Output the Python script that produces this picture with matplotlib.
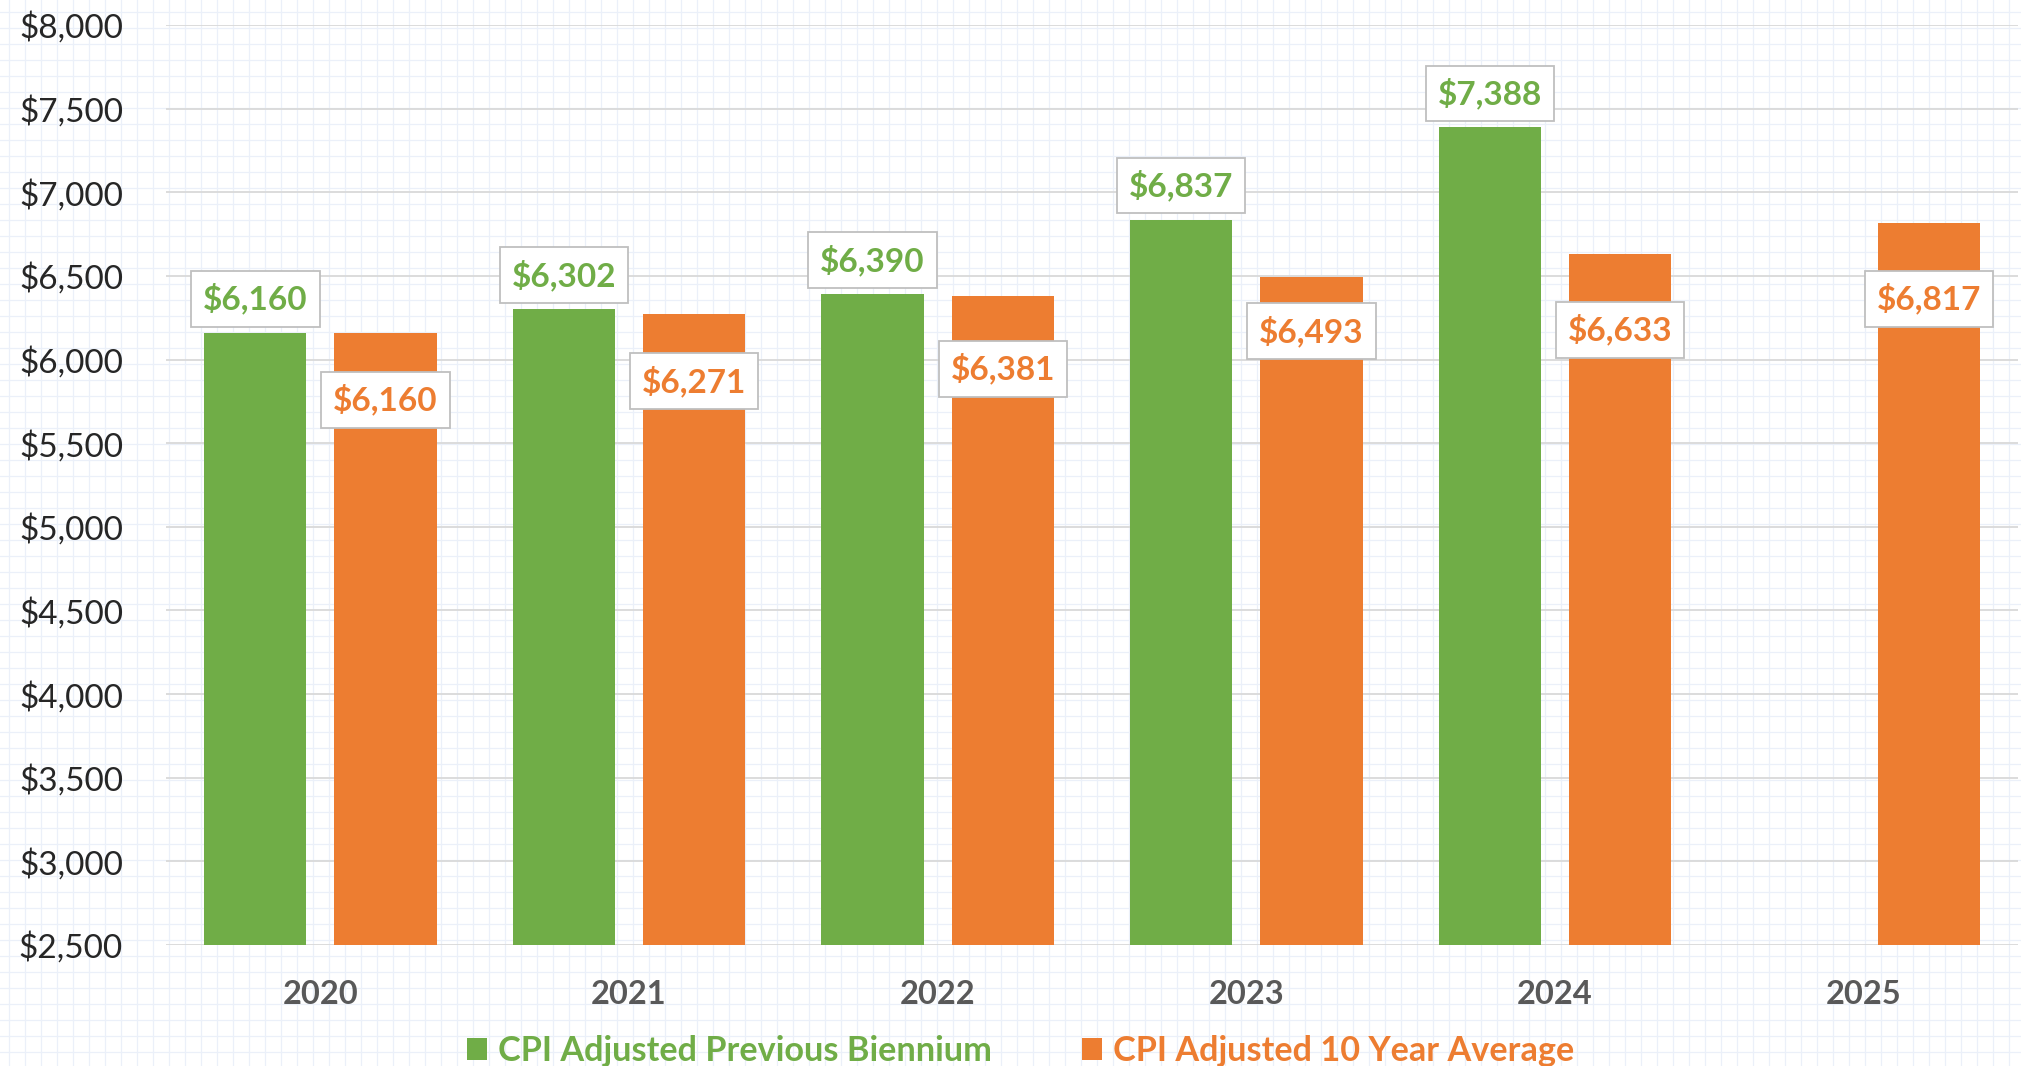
import matplotlib.pyplot as plt
import numpy as np

years = ["2020", "2021", "2022", "2023", "2024", "2025"]
prev_biennium = [6160, 6302, 6390, 6837, 7388, np.nan]
ten_year_avg = [6160, 6271, 6381, 6493, 6633, 6817]
# how far (px) each orange label sits below its bar top, as in the original
orange_label_drop = [67, 67, 73, 54, 76, 76]

green = "#70ad47"
orange = "#ed7d31"

plt.rcParams["font.family"] = ["Lato", "DejaVu Sans"]

W, H = 2021, 1066
fig = plt.figure(figsize=(W / 100, H / 100), dpi=100)

# spreadsheet-like background grid behind everything
bg = fig.add_axes([0, 0, 1, 1], zorder=-1)
bg.set_xlim(0, W)
bg.set_ylim(H, 0)
bg.axis("off")
for x in np.arange(9, W, 16):
    bg.axvline(x, color="#ebf0f9", lw=0.9)
for y in np.arange(11.5, H, 16):
    bg.axhline(y, color="#ebf0f9", lw=0.9)

ax = fig.add_axes([166 / W, (H - 945) / H, 1852 / W, 920 / H])
ax.set_facecolor("none")

x = np.arange(len(years))
w = 0.332
off = 0.211
b1 = ax.bar(x - off, prev_biennium, w, color=green, zorder=3,
            label="CPI Adjusted Previous Biennium")
b2 = ax.bar(x + off, ten_year_avg, w, color=orange, zorder=3,
            label="CPI Adjusted 10 Year Average")

ax.set_xlim(-0.5, 5.5)
ax.set_ylim(2500, 8000)
ax.set_yticks(np.arange(2500, 8001, 500))
ax.set_yticklabels([f"${v:,}" for v in range(2500, 8001, 500)])
ax.set_xticks(x)
ax.set_xticklabels(years, fontweight="bold", color="#595959", fontsize=23.5)
ax.tick_params(axis="y", length=0, pad=31, labelsize=24, labelcolor="#262626")
ax.tick_params(axis="x", length=0, pad=25)
ax.grid(axis="y", color="#d9d9d9", lw=1.3, zorder=1)
for s in ax.spines.values():
    s.set_visible(False)

box = dict(boxstyle="square,pad=0.36", fc="white", ec="#bfbfbf", lw=1.3)
for i, v in enumerate(prev_biennium):
    if np.isnan(v):
        continue
    ax.annotate(f"${v:,}", (x[i] - off, v), xytext=(0, 34 * 0.72),
                textcoords="offset points", ha="center", va="center",
                fontsize=24, fontweight="bold", color=green, bbox=box, zorder=5)
for i, v in enumerate(ten_year_avg):
    ax.annotate(f"${v:,}", (x[i] + off, v), xytext=(0, -orange_label_drop[i] * 0.72),
                textcoords="offset points", ha="center", va="center",
                fontsize=24, fontweight="bold", color=orange, bbox=box, zorder=5)

leg = fig.legend(handles=[b1, b2], loc="center", bbox_to_anchor=(0.505, 0.014),
                 ncol=2, frameon=False, fontsize=24.7, handlelength=0.6,
                 handleheight=0.6, handletextpad=0.33, columnspacing=2.6,
                 borderpad=0, borderaxespad=0)
for t, c in zip(leg.get_texts(), [green, orange]):
    t.set_color(c)
    t.set_fontweight("bold")

fig.savefig("out.png", dpi=100)
